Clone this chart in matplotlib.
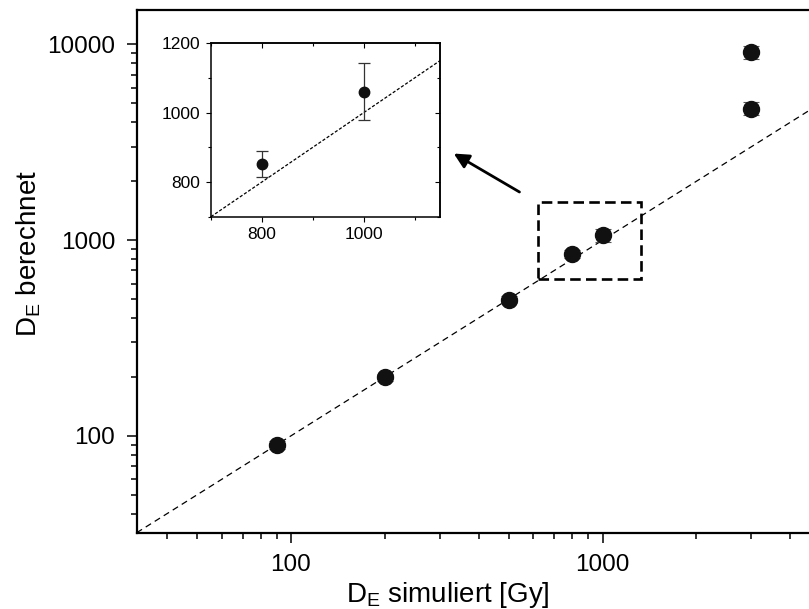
import matplotlib
matplotlib.use("Agg")
import matplotlib.pyplot as plt
from matplotlib.patches import Rectangle
from matplotlib.ticker import FuncFormatter, MultipleLocator, LogLocator

plt.rcParams["font.family"] = ["Liberation Sans", "DejaVu Sans"]
plt.rcParams["mathtext.fontset"] = "custom"
plt.rcParams["mathtext.rm"] = "Liberation Sans"

# simulated dose vs. calculated dose (Gy)
de_sim = [90, 200, 500, 800, 1000, 3000, 3000]
de_calc = [90, 199, 497, 851, 1061, 4700, 9100]
de_err = [4, 8, 20, 37, 82, 360, 720]

# points shown enlarged in the inset
inset_sim = [800, 1000]
inset_calc = [851, 1061]
inset_err = [37, 82]

main_lim = (32, 15000)
inset_xlim = (700, 1150)
inset_ylim = (700, 1200)
zoom_box = (620, 635, 1330, 1570)   # x0, y0, x1, y1 of the highlighted region

fig = plt.figure(figsize=(8.09, 6.09), dpi=100)

# main log-log axes (runs past the right edge of the figure)
ax = fig.add_axes([0.169, 0.1253, 1.029, 0.8583])
ax.set_xscale("log")
ax.set_yscale("log")
ax.set_xlim(*main_lim)
ax.set_ylim(*main_lim)

ax.plot(main_lim, main_lim, ls=(0, (5, 3.5)), color="black", lw=0.9, zorder=1)
ax.errorbar(de_sim, de_calc, yerr=de_err, fmt="o", color="#111111",
            markersize=11.5, ecolor="#555555", elinewidth=0.8, capsize=6,
            capthick=0.8, zorder=3)

x0, y0, x1, y1 = zoom_box
ax.add_patch(Rectangle((x0, y0), x1 - x0, y1 - y0, fill=False, ec="black",
                       lw=1.9, ls=(0, (4, 2)), zorder=2))
ax.annotate("", xy=(333, 2770), xytext=(541, 1762),
            arrowprops=dict(arrowstyle="-|>,head_length=0.9,head_width=0.45",
                            color="black", lw=2, shrinkA=0, shrinkB=0))

for side in ["left", "bottom", "top", "right"]:
    ax.spines[side].set_linewidth(1.6)
ax.tick_params(which="both", direction="out", top=False, right=False,
               labelsize=17.5, width=1.1, pad=8)
ax.tick_params(which="major", length=7.5)
ax.tick_params(which="minor", length=4)
ax.xaxis.set_major_locator(LogLocator(base=10))
ax.yaxis.set_major_locator(LogLocator(base=10))
# x labels beyond the visible part of the axis stay blank
ax.xaxis.set_major_formatter(FuncFormatter(lambda v, _: f"{v:g}" if v < 5000 else ""))
ax.yaxis.set_major_formatter(FuncFormatter(lambda v, _: f"{v:g}"))
ax.xaxis.set_minor_formatter(FuncFormatter(lambda v, _: ""))
ax.yaxis.set_minor_formatter(FuncFormatter(lambda v, _: ""))

ax.set_xlabel(r"D$_\mathregular{E}$ simuliert [Gy]", fontsize=20)
ax.set_ylabel(r"D$_\mathregular{E}$ berechnet", fontsize=20)
ax.xaxis.set_label_coords(0.374, -0.09)
ax.yaxis.set_label_coords(-0.112, 0.535)

# inset with the two points around 1000 Gy
ins = fig.add_axes([0.2608, 0.6442, 0.2831, 0.2847])
ins.set_xlim(*inset_xlim)
ins.set_ylim(*inset_ylim)
ins.plot(inset_xlim, inset_xlim, ls=(0, (2.5, 1.5)), color="black", lw=0.9)
ins.errorbar(inset_sim, inset_calc, yerr=inset_err, fmt="o", color="#111111",
             markersize=7.5, ecolor="#333333", elinewidth=0.9, capsize=4,
             capthick=0.9)
for side in ["left", "bottom", "top", "right"]:
    ins.spines[side].set_linewidth(1.1)
ins.xaxis.set_major_locator(MultipleLocator(200))
ins.xaxis.set_minor_locator(MultipleLocator(100))
ins.yaxis.set_major_locator(MultipleLocator(200))
ins.yaxis.set_minor_locator(MultipleLocator(100))
ins.tick_params(which="both", direction="out", labelsize=12.5, width=0.8, pad=4)
ins.tick_params(which="major", length=3.5)
ins.tick_params(which="minor", length=2.5)

# mirrored inward ticks on the top and right of the inset
top = ins.secondary_xaxis("top")
top.xaxis.set_major_locator(MultipleLocator(200))
top.xaxis.set_minor_locator(MultipleLocator(100))
top.tick_params(which="both", direction="in", labeltop=False, width=0.8)
top.tick_params(which="major", length=3.5)
top.tick_params(which="minor", length=2.5)
right = ins.secondary_yaxis("right")
right.yaxis.set_major_locator(MultipleLocator(200))
right.yaxis.set_minor_locator(MultipleLocator(100))
right.tick_params(which="both", direction="in", labelright=False, width=0.8)
right.tick_params(which="major", length=3.5)
right.tick_params(which="minor", length=2.5)
for s in [top, right]:
    for sp in s.spines.values():
        sp.set_linewidth(1.1)

fig.savefig("out.png", dpi=100)
